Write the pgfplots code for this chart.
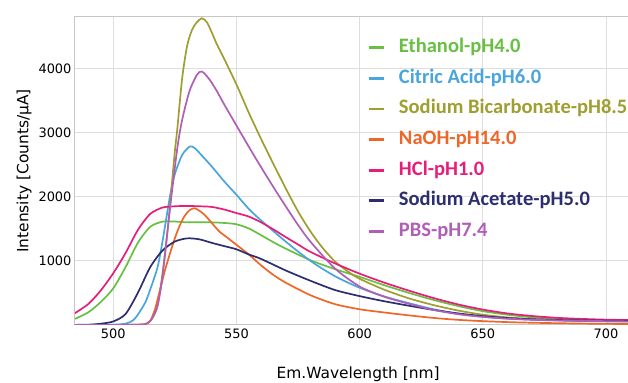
\documentclass[border=0pt]{standalone}
\usepackage{pgfplots}
\pgfplotsset{compat=1.18}
\usepackage{fontspec}
\setmainfont{DejaVu Sans}
\newfontfamily\legfont{Carlito}
\definecolor{cEth}{RGB}{104,192,66}
\definecolor{cCit}{RGB}{72,165,222}
\definecolor{cBic}{RGB}{160,158,48}
\definecolor{cNaOH}{RGB}{238,102,40}
\definecolor{cHCl}{RGB}{230,30,120}
\definecolor{cAce}{RGB}{44,46,112}
\definecolor{cPBS}{RGB}{176,94,184}
\begin{document}
\begin{tikzpicture}
\begin{axis}[
  scale only axis, width=553bp, height=308bp,
  xmin=484.5, xmax=708.9, ymin=0, ymax=4800,
  xtick={500,550,600,650,700}, ytick={1000,2000,3000,4000},
  grid=major, major grid style={black!13, line width=0.9bp},
  axis line style={black!22, line width=1bp},
  tick style={draw=none},
  ticklabel style={font=\fontsize{13}{15}\selectfont},
  /pgf/number format/assume math mode=true,
  /pgf/number format/1000 sep={},
  xlabel={Em.Wavelength [nm]}, ylabel={Intensity [Counts/μA]},
  label style={font=\fontsize{15.5}{18}\selectfont, inner sep=0pt},
  xlabel style={at={(axis description cs:0.512,-0.134)}, anchor=north},
  ylabel style={at={(axis description cs:-0.078,0.5)}, anchor=south},
  legend cell align=left,
  legend image code/.code={\draw[#1, line width=2.8bp] (0bp,0bp) -- (15bp,0bp);},
  legend style={at={(axis description cs:0.528,0.935)}, anchor=north west,
    draw=none, fill=none, inner sep=0pt, row sep=9.6bp, column sep=14bp,
    font=\legfont\bfseries\fontsize{20.6}{23}\selectfont,
    nodes={inner xsep=0pt, inner ysep=2bp, text height=13.5bp, text depth=3.5bp}},
  every axis plot/.append style={line width=1.7bp, smooth, tension=0.45},
]
\coordinate (SW) at (rel axis cs:0,0);
\coordinate (NE) at (rel axis cs:1,1);
% Ethanol-pH4.0
\addplot[cEth] coordinates {(484.5,95) (490,200) (495,360) (500,570) (505,900) (510,1280) (515,1530) (520,1610) (525,1612) (530,1600) (535,1602) (540,1600) (545,1590) (550,1570) (555,1505) (560,1400) (565,1290) (570,1190) (580,1010) (590,870) (600,750) (610,620) (620,500) (630,390) (640,295) (650,215) (660,160) (670,120) (680,95) (690,80) (700,70) (709,64)};
\addlegendentry{\textcolor{cEth}{Ethanol-pH4.0}}
% Citric Acid-pH6.0
\addplot[cCit] coordinates {(484.5,0) (500,5) (505,20) (508,70) (510,160) (513,350) (515,550) (518,900) (520,1300) (523,2000) (525,2350) (528,2650) (531,2780) (533,2760) (536,2640) (540,2470) (545,2240) (550,2030) (555,1810) (560,1630) (570,1300) (580,1000) (590,760) (600,580) (610,445) (620,340) (630,245) (640,175) (650,130) (660,100) (670,82) (680,70) (690,62) (700,56) (709,52)};
\addlegendentry{\textcolor{cCit}{Citric Acid-pH6.0}}
% Sodium Bicarbonate-pH8.5
\addplot[cBic] coordinates {(484.5,0) (510,5) (514,30) (516,110) (518,300) (520,800) (522,1450) (523,1850) (525,2700) (526,3050) (528,3850) (530,4350) (532,4600) (534,4720) (536,4780) (538,4720) (540,4560) (542,4380) (545,4150) (550,3750) (555,3310) (560,2900) (565,2510) (570,2130) (575,1770) (580,1460) (585,1200) (590,990) (595,840) (600,720) (610,550) (620,415) (630,310) (640,225) (650,160) (660,118) (670,92) (680,78) (690,68) (700,62) (709,58)};
\addlegendentry{\textcolor{cBic}{Sodium Bicarbonate-pH8.5}}
% NaOH-pH14.0
\addplot[cNaOH] coordinates {(484.5,0) (510,3) (513,15) (515,60) (517,250) (519,550) (521,850) (523,1110) (525,1350) (527,1550) (529,1700) (531,1790) (533,1820) (535,1780) (537,1720) (540,1590) (543,1460) (546,1370) (550,1250) (555,1100) (560,930) (565,780) (570,660) (580,465) (590,325) (600,245) (610,195) (620,150) (630,110) (640,80) (650,60) (660,45) (670,35) (680,28) (690,22) (700,18) (709,15)};
\addlegendentry{\textcolor{cNaOH}{NaOH-pH14.0}}
% HCl-pH1.0
\addplot[cHCl] coordinates {(484.5,185) (490,330) (495,540) (500,805) (505,1120) (510,1480) (515,1730) (520,1830) (525,1850) (530,1855) (535,1850) (540,1840) (545,1800) (550,1745) (555,1690) (560,1600) (565,1490) (570,1370) (575,1255) (580,1140) (590,960) (600,800) (610,660) (620,535) (630,420) (640,320) (650,240) (660,180) (670,140) (680,112) (690,95) (700,83) (709,77)};
\addlegendentry{\textcolor{cHCl}{HCl-pH1.0}}
% Sodium Acetate-pH5.0
\addplot[cAce] coordinates {(484.5,2) (490,5) (495,20) (500,55) (505,170) (510,500) (515,900) (520,1160) (525,1300) (530,1350) (535,1335) (540,1280) (545,1230) (550,1180) (555,1100) (560,1030) (570,850) (580,690) (590,545) (600,450) (610,370) (620,300) (630,235) (640,180) (650,138) (660,108) (670,90) (680,78) (690,72) (700,68) (709,65)};
\addlegendentry{\textcolor{cAce}{Sodium Acetate-pH5.0}}
% PBS-pH7.4
\addplot[cPBS] coordinates {(484.5,0) (510,5) (514,30) (516,120) (518,300) (520,750) (523,1800) (526,2750) (528,3200) (531,3650) (534,3900) (536,3950) (539,3830) (542,3650) (545,3440) (550,3110) (555,2780) (560,2460) (565,2150) (570,1850) (575,1560) (580,1300) (590,880) (600,600) (610,440) (620,330) (630,235) (640,168) (650,125) (660,98) (670,82) (680,72) (690,65) (700,60) (709,56)};
\addlegendentry{\textcolor{cPBS}{PBS-pH7.4}}
\end{axis}
\pgfresetboundingbox
\path[use as bounding box] ([xshift=-75bp,yshift=-58bp]SW) rectangle ([yshift=17bp]NE);
\end{tikzpicture}
\end{document}
